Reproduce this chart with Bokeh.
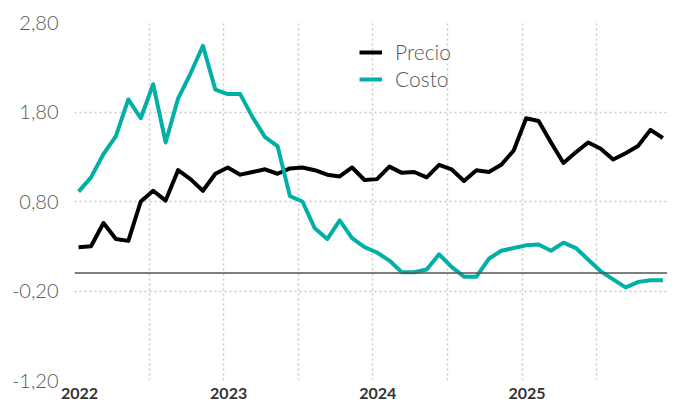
from bokeh.plotting import figure
from bokeh.models import FixedTicker, Legend, LegendItem, Span, ColumnDataSource
from bokeh.embed import file_html
from bokeh.resources import INLINE

# Monthly data, Jan 2022 - Dec 2025
months = [f"{y}-{m:02d}" for y in range(2022, 2026) for m in range(1, 13)]
precio = [0.29, 0.30, 0.56, 0.38, 0.36, 0.80, 0.92, 0.81, 1.15, 1.05, 0.92, 1.11,
          1.18, 1.10, 1.13, 1.16, 1.11, 1.17, 1.18, 1.15, 1.10, 1.08, 1.18, 1.04,
          1.05, 1.19, 1.12, 1.13, 1.07, 1.21, 1.16, 1.03, 1.15, 1.13, 1.21, 1.37,
          1.73, 1.70, 1.46, 1.23, 1.35, 1.46, 1.39, 1.27, 1.34, 1.42, 1.60, 1.51]
costo = [0.91, 1.07, 1.33, 1.53, 1.94, 1.73, 2.11, 1.46, 1.95, 2.23, 2.54, 2.05,
         2.00, 2.00, 1.74, 1.52, 1.42, 0.86, 0.80, 0.50, 0.38, 0.59, 0.39, 0.29,
         0.23, 0.14, 0.01, 0.01, 0.04, 0.21, 0.07, -0.04, -0.04, 0.16, 0.25, 0.28,
         0.31, 0.32, 0.25, 0.34, 0.28, 0.15, 0.02, -0.07, -0.16, -0.10, -0.08, -0.08]
y_ticks = [-1.2, -0.2, 0.8, 1.8, 2.8]
y_tick_labels = ["-1,20", "-0,20", "0,80", "1,80", "2,80"]
years = ["2022", "2023", "2024", "2025"]
series_names = ["Precio", "Costo"]

FONT = "Lato"
LIGHT = "Lato Light"
x = [i + 0.33 for i in range(len(months))]
src = ColumnDataSource(dict(x=x, precio=precio, costo=costo))

p = figure(width=667, height=401, output_backend="svg", toolbar_location=None,
           x_range=(0, 47.7), y_range=(-1.2, 2.8),
           min_border_left=74, min_border_right=0, min_border_top=22, min_border_bottom=0)
p.outline_line_color = None
p.background_fill_color = "white"

# grids
p.xgrid.ticker = FixedTicker(ticks=[6 * k for k in range(8)])
p.ygrid.ticker = FixedTicker(ticks=y_ticks)
for g in (p.xgrid, p.ygrid):
    g.grid_line_color = "#c8c8c8"
    g.grid_line_width = 1.5
    g.grid_line_dash = "2 3"

# axes
p.xaxis.ticker = FixedTicker(ticks=[12 * k + 0.4 for k in range(len(years))])
p.xaxis.major_label_overrides = {12 * k + 0.4: yv for k, yv in enumerate(years)}
p.yaxis.ticker = FixedTicker(ticks=y_ticks)
p.yaxis.major_label_overrides = {t: l for t, l in zip(y_ticks, y_tick_labels)}
for ax in (p.xaxis, p.yaxis):
    ax.axis_line_color = None
    ax.major_tick_line_color = None
    ax.minor_tick_line_color = None
p.xaxis.major_label_text_font = FONT
p.xaxis.major_label_text_font_size = "16px"
p.xaxis.major_label_text_font_style = "bold"
p.xaxis.major_label_text_color = "#333333"
p.xaxis.major_label_standoff = 1
p.yaxis.major_label_text_font = LIGHT
p.yaxis.major_label_text_font_size = "20px"
p.yaxis.major_label_text_color = "#595959"
p.yaxis.major_label_standoff = 10

# zero line
p.add_layout(Span(location=0, dimension="width", line_color="#555555", line_width=1.5))

r1 = p.line("x", "precio", source=src, line_color="#000000", line_width=4, line_join="round")
r2 = p.line("x", "costo", source=src, line_color="#00B0A6", line_width=4, line_join="round")

legend = Legend(items=[LegendItem(label=series_names[0], renderers=[r1]),
                       LegendItem(label=series_names[1], renderers=[r2])],
                location=(285, 289), orientation="vertical")
legend.border_line_color = None
legend.background_fill_alpha = 0
legend.padding = 0
legend.margin = 0
legend.spacing = 2
legend.glyph_width = 23
legend.glyph_height = 22
legend.label_height = 22
legend.label_standoff = 13
legend.label_text_font = LIGHT
legend.label_text_font_size = "21px"
legend.label_text_color = "#595959"
p.add_layout(legend)

open("out.html", "w").write(file_html(p, INLINE))
